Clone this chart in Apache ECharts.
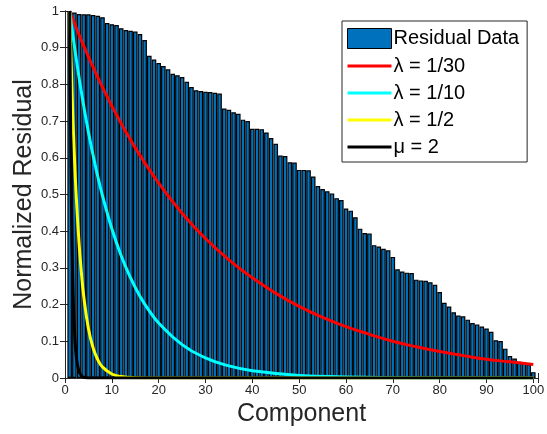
<!DOCTYPE html>
<html lang="en" style="height: 100%">
<head>
    <meta charset="utf-8">
    <title>Normalized Residual</title>
    <script src="https://cdn.jsdelivr.net/npm/echarts@6/dist/echarts.min.js"></script>
</head>
<body style="height: 100%; margin: 0; background: #fff">
<div id="main" style="width: 547px; height: 434px;"></div>
<script type="text/javascript">
    // residual per component (1..100)
    var residual = [1.000, 0.996, 0.992, 0.991, 0.991, 0.989, 0.987, 0.983, 0.967, 0.964,
        0.962, 0.953, 0.948, 0.946, 0.944, 0.937, 0.921, 0.878, 0.868, 0.858,
        0.850, 0.841, 0.829, 0.825, 0.820, 0.807, 0.793, 0.784, 0.782, 0.780,
        0.779, 0.777, 0.775, 0.734, 0.731, 0.724, 0.720, 0.704, 0.700, 0.679,
        0.679, 0.678, 0.669, 0.654, 0.638, 0.606, 0.605, 0.588, 0.587, 0.567,
        0.567, 0.566, 0.549, 0.523, 0.515, 0.509, 0.503, 0.490, 0.485, 0.462,
        0.456, 0.438, 0.407, 0.395, 0.394, 0.362, 0.358, 0.352, 0.348, 0.330,
        0.296, 0.290, 0.287, 0.286, 0.268, 0.266, 0.265, 0.261, 0.254, 0.234,
        0.205, 0.195, 0.179, 0.170, 0.168, 0.159, 0.150, 0.146, 0.140, 0.135,
        0.126, 0.103, 0.101, 0.080, 0.060, 0.053, 0.044, 0.042, 0.037, 0.016];

    // fitted curves, points
    var redX = [1, 5, 10, 15, 20, 25, 30, 35, 40, 45, 50, 55, 60, 65, 70, 75, 80, 85, 90, 95, 100];
    var redY = [1.0, 0.875, 0.741, 0.627, 0.531, 0.449, 0.380, 0.322, 0.273, 0.231, 0.195,
        0.165, 0.140, 0.119, 0.100, 0.085, 0.072, 0.061, 0.051, 0.044, 0.037];

    var cyanX = [1, 2, 3, 4, 5, 6, 7, 8, 10, 12, 14, 16, 18, 20, 25, 30, 35, 40, 50, 60, 70, 80, 90, 100];
    var cyanY = [1.0, 0.905, 0.819, 0.741, 0.670, 0.607, 0.549, 0.497, 0.407, 0.333, 0.273, 0.223,
        0.183, 0.150, 0.091, 0.055, 0.033, 0.020, 0.007, 0.003, 0.001, 0, 0, 0];

    var yellowX = [1, 1.5, 2, 2.5, 3, 3.5, 4, 5, 6, 7, 8, 10, 12, 15, 20, 30, 50, 100];
    var yellowY = [1.0, 0.78, 0.607, 0.472, 0.368, 0.287, 0.223, 0.135, 0.082, 0.050, 0.030,
        0.011, 0.004, 0.001, 0, 0, 0, 0];

    var blackX = [1, 1.25, 1.5, 1.75, 2, 2.25, 2.5, 3, 3.5, 4, 5, 6, 10, 100];
    var blackY = [1.0, 0.607, 0.368, 0.223, 0.135, 0.082, 0.050, 0.018, 0.007, 0.002, 0, 0, 0, 0];

    var xTicks = [0, 10, 20, 30, 40, 50, 60, 70, 80, 90, 100];

    var pairs = function (xs, ys) {
        return xs.map(function (x, i) { return [x, ys[i]]; });
    };

    var font = 'Liberation Sans, Arial, sans-serif';
    var ink = '#262626';

    var myChart = echarts.init(document.getElementById('main'));

    var boxAxis = {
        min: 0,
        axisLine: {show: true, lineStyle: {color: ink, width: 1}},
        axisTick: {show: true, inside: true, length: 5, lineStyle: {color: ink}},
        splitLine: {show: false},
        axisLabel: {show: false}
    };

    var curve = function (name, xs, ys, color) {
        return {
            name: name, type: 'line', symbol: 'none', smooth: 0.5,
            data: pairs(xs, ys),
            lineStyle: {color: color, width: 3},
            itemStyle: {color: color}
        };
    };

    // line-only legend entries: hide the symbol, keep the stroke
    var lineEntry = function (name) {
        return {name: name, itemStyle: {opacity: 0}, lineStyle: {width: 3}};
    };

    myChart.setOption({
        animation: false,
        textStyle: {fontFamily: font},
        grid: {left: 65, right: 9, top: 11, bottom: 56, outerBoundsMode: 'none'},
        legend: {
            orient: 'vertical',
            left: 342,
            top: 21,
            itemWidth: 44,
            itemHeight: 20,
            itemGap: 7,
            padding: [7, 8, 5, 4],
            backgroundColor: '#fff',
            borderColor: ink,
            borderWidth: 1,
            borderRadius: 0,
            textStyle: {fontFamily: font, fontSize: 20, color: '#000', padding: [0, 0, 0, -3]},
            data: [
                {name: 'Residual Data', icon: 'rect', itemStyle: {borderColor: '#000', borderWidth: 1}},
                lineEntry('λ = 1/30'),
                lineEntry('λ = 1/10'),
                lineEntry('λ = 1/2'),
                lineEntry('μ = 2')
            ]
        },
        xAxis: [
            Object.assign({}, boxAxis, {
                type: 'value',
                max: 101,
                interval: 10,
                position: 'bottom',
                axisLabel: {
                    show: true, color: ink, fontSize: 13, margin: 6,
                    formatter: function (v) { return xTicks.indexOf(v) >= 0 ? String(v) : ''; }
                },
                name: 'Component',
                nameLocation: 'middle',
                nameGap: 19,
                nameTextStyle: {fontSize: 25, color: ink, fontFamily: font}
            }),
            Object.assign({}, boxAxis, {type: 'value', max: 101, interval: 10, position: 'top'})
        ],
        yAxis: [
            Object.assign({}, boxAxis, {
                type: 'value',
                max: 1,
                interval: 0.1,
                position: 'left',
                axisLabel: {show: true, color: ink, fontSize: 13, margin: 6},
                name: 'Normalized Residual',
                nameLocation: 'middle',
                nameGap: 28,
                nameMoveOverlap: false,
                nameTextStyle: {fontSize: 25, color: ink, fontFamily: font}
            }),
            Object.assign({}, boxAxis, {type: 'value', max: 1, interval: 0.1, position: 'right'})
        ],
        series: [
            {
                name: 'Residual Data',
                type: 'bar',
                barWidth: 4.6,
                data: residual.map(function (v, i) { return [i + 1, v]; }),
                itemStyle: {color: '#0072BD', borderColor: '#000', borderWidth: 1.2}
            },
            curve('λ = 1/30', redX, redY, '#ff0000'),
            curve('λ = 1/10', cyanX, cyanY, '#00ffff'),
            curve('λ = 1/2', yellowX, yellowY, '#ffff00'),
            curve('μ = 2', blackX, blackY, '#000000')
        ]
    });
</script>
</body>
</html>
